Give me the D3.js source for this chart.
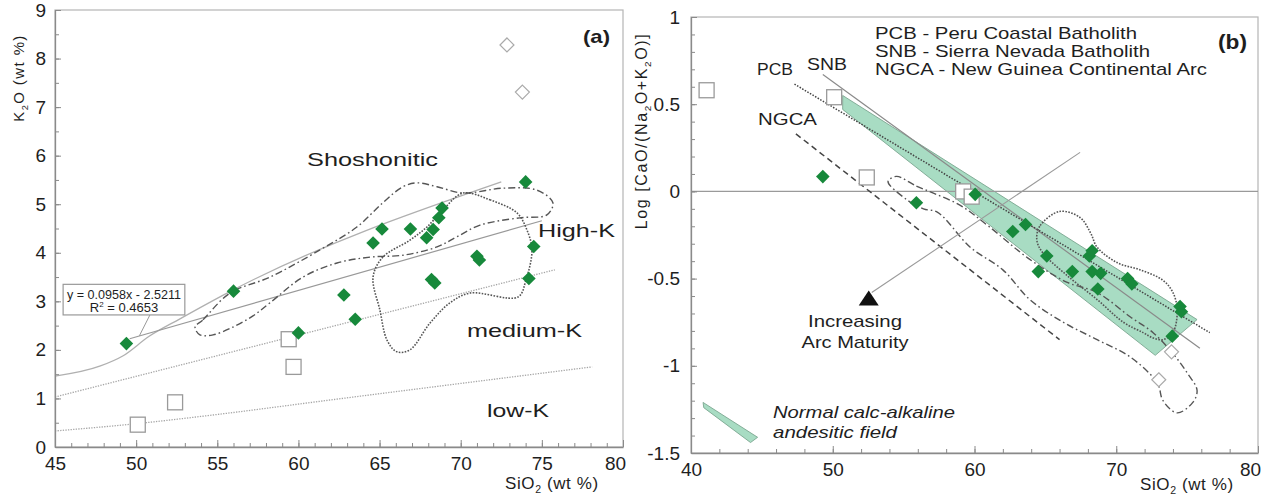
<!DOCTYPE html>
<html>
<head>
<meta charset="utf-8">
<script src="https://cdn.jsdelivr.net/npm/d3@7"></script>
<style>
  body { margin: 0; background: #fff; }
  svg { display: block; font-family: "Liberation Sans", Arial, sans-serif; }
  .tick text { font-size: 19px; fill: #1e1e1e; }
</style>
</head>
<body>
<svg id="chart" width="1272" height="497"></svg>
<script>
// ---------- panel (a): K2O vs SiO2 ----------
const xTicksA = [45, 50, 55, 60, 65, 70, 75, 80];
const yTicksA = [0, 1, 2, 3, 4, 5, 6, 7, 8, 9];

const greenA = [[49.4, 2.13], [56.0, 3.21], [60.0, 2.35], [62.8, 3.13], [63.5, 2.63],
  [64.6, 4.2], [65.15, 4.49], [66.9, 4.49], [67.9, 4.31], [68.3, 4.48], [68.65, 4.72],
  [68.85, 4.92], [68.2, 3.45], [68.4, 3.38], [71.0, 3.93], [71.15, 3.85], [74.0, 5.46],
  [74.5, 4.13], [74.2, 3.47]];
const squaresA = [[50.1, 0.46], [52.4, 0.92], [59.4, 2.22], [59.7, 1.65]];
const openDiamondsA = [[72.85, 8.28], [73.8, 7.31]];

const lowMedK = [[45, 0.33], [50, 0.48], [55, 0.67], [62, 0.97], [78.1, 1.65]];
const medHighK = [[45, 1.03], [75.8, 3.65]];
const highShoK = [[45, 1.46], [47.8, 1.67], [49.2, 1.88], [50.8, 2.28], [52.7, 2.64], [55.6, 3.17], [72.5, 5.46]];
const regressionA = [[49.6, 2.23], [75.0, 4.66]];

const dashDotA = [[53.63, 2.47], [54.12, 2.62], [55.78, 3.17], [58.25, 3.5], [61.33, 4.06],
  [63.6, 4.53], [65.2, 5.03], [66.44, 5.36], [67.3, 5.44], [68.54, 5.36], [70.14, 5.23],
  [72.6, 5.33], [74.7, 5.29], [75.68, 5.03], [75.31, 4.78], [73.65, 4.72], [71.19, 4.57],
  [69.77, 4.33], [68.54, 4.12], [66.44, 3.95], [64.41, 3.91], [62.38, 3.79], [60.28, 3.5],
  [58.25, 2.97], [57.2, 2.7], [55.97, 2.47], [54.74, 2.31], [53.93, 2.31]];
const dottedA = [[70.14, 5.23], [71.8, 5.09], [73.47, 4.82], [74.08, 4.47], [74.39, 4.06],
  [74.02, 3.44], [73.53, 3.09], [70.57, 3.17], [69.34, 2.97], [68.1, 2.55], [66.87, 2.0],
  [66.07, 1.96], [65.46, 2.2], [65.02, 2.82], [64.6, 3.5], [65.2, 3.91], [66.87, 4.26],
  [67.92, 4.53], [68.9, 4.88]];

// ---------- panel (b): Log[CaO/(Na2O+K2O)] vs SiO2 ----------
const xTicksB = [40, 50, 60, 70, 80];
const yTicksB = [-1.5, -1, -0.5, 0, 0.5, 1];

const greenB = [[49.3, 0.085], [55.9, -0.065], [60.05, -0.017], [62.7, -0.23], [63.6, -0.19],
  [65.1, -0.37], [64.5, -0.46], [66.9, -0.46], [68.1, -0.37], [68.3, -0.34], [68.3, -0.46],
  [68.9, -0.47], [68.7, -0.56], [70.8, -0.5], [71.1, -0.53], [74.5, -0.66], [74.6, -0.69],
  [73.95, -0.83]];
const squaresB = [[41.1, 0.58], [50.1, 0.54], [52.4, 0.08], [59.2, 0.0], [59.8, -0.03]];
const openDiamondsB = [[73.9, -0.92], [73.0, -1.08]];

const andesiteField = [[50.7, 0.55], [75.7, -0.735], [72.75, -0.94], [50.7, 0.47]];
const legendWedge = [[40.85, -1.21], [44.7, -1.41], [44.2, -1.44], [40.9, -1.24]];
const pcbLine = [[47.3, 0.615], [76.6, -0.81]];
const snbLine = [[49.3, 0.67], [75.9, -0.9]];
const ngcaLine = [[47.4, 0.33], [66.0, -0.85]];
const maturityArrow = [[67.45, 0.224], [52.75, -0.58]];

const dashDotB = [[54.5, 0.086], [55.9, 0.03], [57.1, -0.01], [59.0, -0.08], [61.0, -0.2],
  [63.9, -0.39], [66.5, -0.52], [68.65, -0.58], [71.0, -0.72], [72.6, -0.81], [74.0, -0.93],
  [75.0, -1.04], [75.7, -1.14], [75.4, -1.21], [74.3, -1.27], [73.3, -1.2], [72.9, -1.1],
  [71.0, -0.95], [68.65, -0.85], [66.25, -0.75], [63.9, -0.62], [62.0, -0.45], [59.7, -0.32],
  [57.4, -0.12], [56.4, -0.1], [55.2, -0.046], [53.9, 0.057]];
const dottedB = [[66.0, -0.115], [64.6, -0.2], [64.4, -0.28], [64.8, -0.35], [66.5, -0.48],
  [68.65, -0.62], [70.5, -0.75], [71.9, -0.81], [72.6, -0.84], [73.3, -0.85], [74.0, -0.81],
  [74.3, -0.68], [74.0, -0.58], [73.3, -0.51], [71.7, -0.45], [70.1, -0.41], [68.65, -0.32],
  [68.2, -0.24], [67.45, -0.15]];

const GREEN = "#17893b";
const svg = d3.select("#chart");

// --- helpers ---
function diamond(r) { return `M0,${-r}L${r},0L0,${r}L${-r},0Z`; }

// segs: plain string, or array of strings and {sub: "..."} pieces
function addText(g, px, py, segs, o) {
  const t = g.append("text").attr("x", px).attr("y", py)
    .style("font-size", o.size + "px").attr("fill", o.fill || "#1e1e1e")
    .attr("text-anchor", o.anchor || "start");
  if (o.weight) t.style("font-weight", o.weight);
  if (o.italic) t.style("font-style", "italic");
  if (o.spacing) t.style("letter-spacing", o.spacing + "px");
  if (o.rotate) t.attr("x", 0).attr("y", 0).attr("transform", `translate(${px},${py}) rotate(-90)`);
  if (typeof segs === "string") {
    t.text(segs);
    if (o.len) t.attr("textLength", o.len).attr("lengthAdjust", "spacingAndGlyphs");
  } else {
    const shift = o.size * 0.25;
    let back = 0;
    segs.forEach(s => {
      if (typeof s === "string") {
        t.append("tspan").attr("dy", back).style("font-size", o.size + "px").text(s);
        back = 0;
      } else {
        t.append("tspan").attr("dy", shift).style("font-size", (o.size * 0.62) + "px").text(s.sub);
        back = -shift;
      }
    });
  }
  return t;
}

function axes(g, x, y, xt, yt, xMinor, yMinor, padX, padY) {
  const [y0] = y.range(), [x0] = x.range();
  const fmt = d => String(d);
  const gx = g.append("g").attr("transform", `translate(0,${y0})`)
    .call(d3.axisBottom(x).tickValues(xt).tickFormat(fmt).tickSize(-7).tickSizeOuter(0).tickPadding(padX));
  g.append("g").attr("transform", `translate(0,${y0})`)
    .call(d3.axisBottom(x).tickValues(xMinor).tickSize(-4).tickFormat("")).select(".domain").remove();
  const gy = g.append("g").attr("transform", `translate(${x0},0)`)
    .call(d3.axisLeft(y).tickValues(yt).tickFormat(fmt).tickSize(-6).tickSizeOuter(0).tickPadding(padY));
  g.append("g").attr("transform", `translate(${x0},0)`)
    .call(d3.axisLeft(y).tickValues(yMinor).tickSize(-4).tickFormat("")).select(".domain").remove();
  g.selectAll(".domain").attr("stroke", "#8a8a8a").attr("stroke-width", 1.3);
  g.selectAll(".tick line").attr("stroke", "#8a8a8a");
  gx.selectAll(".tick text").filter((d, i, n) => i === n.length - 1).attr("dx", -8);
  return [gx, gy];
}

function frame(g, x, y) {
  const [xa, xb] = x.range(), [ya, yb] = y.range();
  g.append("rect").attr("x", xa).attr("y", yb).attr("width", xb - xa).attr("height", ya - yb)
    .attr("fill", "none").attr("stroke", "#b5b5b5").attr("stroke-width", 1.2);
}

function markers(g, x, y, squares, openD, green) {
  g.selectAll(null).data(squares).join("rect")
    .attr("x", d => x(d[0]) - 7.5).attr("y", d => y(d[1]) - 7.5)
    .attr("width", 15).attr("height", 15)
    .attr("fill", "#fff").attr("stroke", "#9a9a9a").attr("stroke-width", 1.3);
  g.selectAll(null).data(openD).join("path")
    .attr("d", diamond(7)).attr("transform", d => `translate(${x(d[0])},${y(d[1])})`)
    .attr("fill", "#fff").attr("stroke", "#aaa").attr("stroke-width", 1.2);
  g.selectAll(null).data(green).join("path")
    .attr("d", diamond(6.8)).attr("transform", d => `translate(${x(d[0])},${y(d[1])})`)
    .attr("fill", GREEN);
}

// ================= PANEL (a) =================
{
  const x = d3.scaleLinear().domain([45, 80]).range([55, 623]);
  const y = d3.scaleLinear().domain([0, 9]).range([447, 10]);
  const g = svg.append("g");
  const line = d3.line().x(d => x(d[0])).y(d => y(d[1]));
  const smooth = d3.line().x(d => x(d[0])).y(d => y(d[1])).curve(d3.curveMonotoneX);
  const closed = d3.line().x(d => x(d[0])).y(d => y(d[1])).curve(d3.curveCatmullRomClosed.alpha(0.5));

  frame(g, x, y);

  g.append("path").attr("d", smooth(lowMedK)).attr("fill", "none")
    .attr("stroke", "#a5a5a5").attr("stroke-width", 1.3).attr("stroke-dasharray", "1.3 1.3");
  g.append("path").attr("d", line(medHighK)).attr("fill", "none")
    .attr("stroke", "#a5a5a5").attr("stroke-width", 1.3).attr("stroke-dasharray", "1.3 1.3");
  g.append("path").attr("d", smooth(highShoK)).attr("fill", "none")
    .attr("stroke", "#b0b0b0").attr("stroke-width", 1.3);
  g.append("path").attr("d", line(regressionA)).attr("fill", "none")
    .attr("stroke", "#999").attr("stroke-width", 1.2);

  // regression label
  g.append("line").attr("x1", x(50.85)).attr("y1", y(2.72)).attr("x2", x(50.2)).attr("y2", y(2.29))
    .attr("stroke", "#999").attr("stroke-width", 1);
  g.append("rect").attr("x", x(45.5)).attr("y", y(3.35)).attr("width", x(53.0) - x(45.5))
    .attr("height", y(2.72) - y(3.35)).attr("fill", "#fff").attr("stroke", "#999").attr("stroke-width", 1.2);
  addText(g, 124, 299, "y = 0.0958x - 2.5211", { size: 13, anchor: "middle", len: 114 });
  const r2 = g.append("text").attr("x", 124).attr("y", 312).attr("text-anchor", "middle")
    .style("font-size", "13px").attr("fill", "#1e1e1e");
  r2.append("tspan").style("font-size", "13px").text("R");
  r2.append("tspan").attr("dy", -5).style("font-size", "8px").text("2");
  r2.append("tspan").attr("dy", 5).style("font-size", "13px").text(" = 0.4653");

  g.append("path").attr("d", closed(dashDotA)).attr("fill", "none")
    .attr("stroke", "#555").attr("stroke-width", 1.4).attr("stroke-dasharray", "7 3 1.6 3");
  g.append("path").attr("d", closed(dottedA)).attr("fill", "none")
    .attr("stroke", "#555").attr("stroke-width", 1.6).attr("stroke-dasharray", "1.6 1.4");

  markers(g, x, y, squaresA, openDiamondsA, greenA);

  addText(g, 307, 166, "Shoshonitic", { size: 19, len: 131 });
  addText(g, 538, 237, "High-K", { size: 19, len: 77 });
  addText(g, 467, 337, "medium-K", { size: 19, len: 115 });
  addText(g, 487, 417, "low-K", { size: 19, len: 62 });
  addText(g, 583, 43, "(a)", { size: 19, weight: "bold", len: 27 });

  addText(g, 505, 489, ["SiO", { sub: "2" }, " (wt %)"], { size: 17, spacing: 0.6 });
  addText(g, 24, 78, ["K", { sub: "2" }, "O (wt %)"], { size: 15, spacing: 1.4, anchor: "middle", rotate: true });

  axes(g, x, y, xTicksA, yTicksA, d3.range(45, 81, 1), d3.range(0, 9.01, 0.5), 10, 9);
}

// ================= PANEL (b) =================
{
  const x = d3.scaleLinear().domain([40, 80]).range([691, 1258]);
  const y = d3.scaleLinear().domain([-1.5, 1]).range([453, 17]);
  const g = svg.append("g");
  const line = d3.line().x(d => x(d[0])).y(d => y(d[1]));
  const poly = d3.line().x(d => x(d[0])).y(d => y(d[1])).curve(d3.curveLinearClosed);
  const closed = d3.line().x(d => x(d[0])).y(d => y(d[1])).curve(d3.curveCatmullRomClosed.alpha(0.5));

  frame(g, x, y);

  g.append("path").attr("d", poly(andesiteField)).attr("fill", "#a8dcc3")
    .attr("stroke", "#7aa690").attr("stroke-width", 0.9);
  g.append("path").attr("d", poly(legendWedge)).attr("fill", "#a8dcc3")
    .attr("stroke", "#7aa690").attr("stroke-width", 0.9);

  g.append("line").attr("x1", x(40)).attr("x2", x(80)).attr("y1", y(0)).attr("y2", y(0))
    .attr("stroke", "#9a9a9a").attr("stroke-width", 1.2);

  g.append("path").attr("d", line(snbLine)).attr("fill", "none")
    .attr("stroke", "#8a8a8a").attr("stroke-width", 1.2);
  g.append("path").attr("d", line(pcbLine)).attr("fill", "none")
    .attr("stroke", "#444").attr("stroke-width", 1.5).attr("stroke-dasharray", "1.5 1.5");
  g.append("path").attr("d", line(ngcaLine)).attr("fill", "none")
    .attr("stroke", "#444").attr("stroke-width", 1.5).attr("stroke-dasharray", "6 4");

  g.append("path").attr("d", closed(dashDotB)).attr("fill", "none")
    .attr("stroke", "#555").attr("stroke-width", 1.4).attr("stroke-dasharray", "7 3 1.6 3");
  g.append("path").attr("d", closed(dottedB)).attr("fill", "none")
    .attr("stroke", "#555").attr("stroke-width", 1.6).attr("stroke-dasharray", "1.6 1.4");

  // arc maturity arrow
  g.append("path").attr("d", line(maturityArrow)).attr("fill", "none")
    .attr("stroke", "#9a9a9a").attr("stroke-width", 1.1);
  const tip = maturityArrow[1];
  g.append("path").attr("d", "M0,-8L10,7L-10,7Z")
    .attr("transform", `translate(${x(tip[0]) - 3},${y(tip[1]) + 6})`).attr("fill", "#111");

  markers(g, x, y, squaresB, openDiamondsB, greenB);

  addText(g, 875, 39, "PCB - Peru Coastal Batholith", { size: 17, len: 262 });
  addText(g, 875, 57, "SNB - Sierra Nevada Batholith", { size: 17, len: 275 });
  addText(g, 875, 75, "NGCA - New Guinea Continental Arc", { size: 17, len: 332 });
  addText(g, 1218, 49, "(b)", { size: 20, weight: "bold", len: 29 });
  addText(g, 757, 75, "PCB", { size: 17, len: 36 });
  addText(g, 807, 70, "SNB", { size: 17, len: 40 });
  addText(g, 758, 125, "NGCA", { size: 17, len: 59 });
  addText(g, 855, 327, "Increasing", { size: 17, anchor: "middle", len: 94 });
  addText(g, 855, 348, "Arc Maturity", { size: 17, anchor: "middle", len: 107 });
  addText(g, 773, 418, "Normal calc-alkaline", { size: 17, italic: true, len: 182 });
  addText(g, 773, 438, "andesitic field", { size: 17, italic: true, len: 124 });

  addText(g, 1140, 490, ["SiO", { sub: "2" }, " (wt %)"], { size: 17, spacing: 0.6 });
  addText(g, 647, 131, ["Log [CaO/(Na", { sub: "2" }, "O+K", { sub: "2" }, "O)]"],
    { size: 16, spacing: 1.6, anchor: "middle", rotate: true });

  axes(g, x, y, xTicksB, yTicksB, d3.range(40, 81, 2), d3.range(-1.5, 1.001, 0.1), 10, 11);
}
</script>
</body>
</html>
